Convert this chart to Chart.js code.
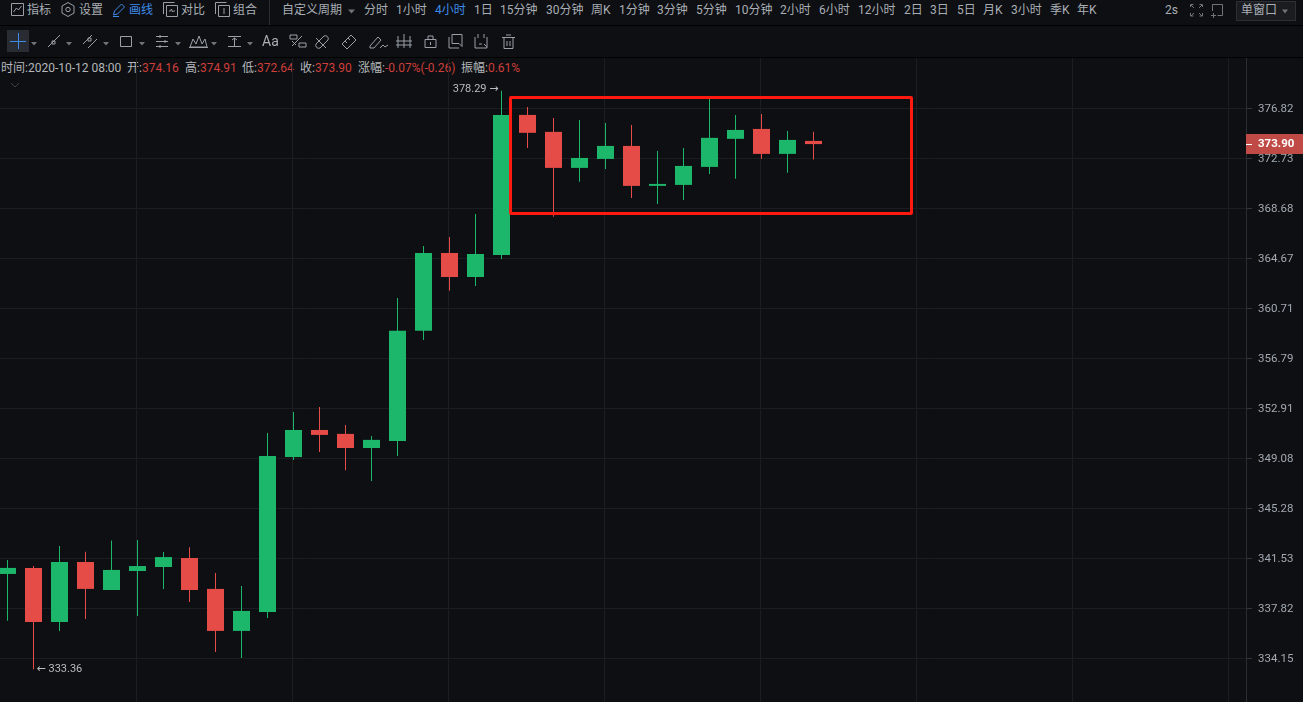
<!DOCTYPE html>
<html lang="zh">
<head>
<meta charset="UTF-8">
<title>4小时K线</title>
<script src="https://cdn.jsdelivr.net/npm/chart.js"></script>
<style>
    html, body { margin: 0; padding: 0; background: #0d0f12; overflow: hidden; }
    body { width: 1303px; height: 702px; position: relative; font: 12px Roboto, "Noto Sans CJK SC", sans-serif; color: #a9aeb5; }
    .row1 span, .info span { position: absolute; white-space: nowrap; }
    .row1 span { top: 2px; line-height: 16px; }
    .blue { color: #3d8be8; }
    .hline { position: absolute; left: 0; width: 1303px; height: 1px; background: #000; }
    .info { position: absolute; left: 0; top: 60px; height: 16px; line-height: 16px; color: #b4b7bb; }
    .info b { font-weight: normal; color: #cf3f3b; }
    #plot { position: absolute; left: 0; top: 58px; }
    #mark { position: absolute; left: 509px; top: 96px; width: 404px; height: 119px; box-sizing: border-box; border: 3px solid #ff1a0f; border-radius: 2px; }
    #icons { position: absolute; left: 0; top: 0; }
    .win { position: absolute; left: 1236px; top: 1px; width: 60px; height: 20px; box-sizing: border-box; border: 1px solid #2c2f35; background: #1a1c20; }
</style>
</head>
<body>
<div class="row1">
    <span style="left:27px">指标</span><span style="left:79px">设置</span><span style="left:129px" class="blue">画线</span><span style="left:181px">对比</span><span style="left:233px">组合</span>
    <span style="left:282px">自定义周期</span><span style="left:364px">分时</span><span style="left:396px">1小时</span><span style="left:435px" class="blue">4小时</span><span style="left:474px">1日</span><span style="left:500px">15分钟</span><span style="left:546px">30分钟</span><span style="left:591px">周K</span><span style="left:619px">1分钟</span><span style="left:657px">3分钟</span><span style="left:696px">5分钟</span><span style="left:735px">10分钟</span><span style="left:780px">2小时</span><span style="left:819px">6小时</span><span style="left:858px">12小时</span><span style="left:904px">2日</span><span style="left:930px">3日</span><span style="left:957px">5日</span><span style="left:983px">月K</span><span style="left:1011px">3小时</span><span style="left:1050px">季K</span><span style="left:1077px">年K</span><span style="left:1165px">2s</span>
    <div class="win"></div>
    <span style="left:1241px">单窗口</span>
</div>
<div class="hline" style="top:25px"></div>
<div class="hline" style="top:57px"></div>
<div class="info">
    <span style="left:1px">时间:2020-10-12 08:00</span>
    <span style="left:127px">开:<b>374.16</b></span>
    <span style="left:185px">高:<b>374.91</b></span>
    <span style="left:242px">低:<b>372.64</b></span>
    <span style="left:300px">收:<b>373.90</b></span>
    <span style="left:358px">涨幅:<b>-0.07%(-0.26)</b></span>
    <span style="left:461px">振幅:<b>0.61%</b></span>
</div>
<canvas id="plot" width="1303" height="644"></canvas>
<div id="mark"></div>
<svg id="icons" width="1303" height="96" fill="none" stroke="#9ba0a8" stroke-width="1">
    <!-- top bar -->
    <path d="M11.5 3.5h12v12h-12zM13.5 12l3-4 2 2 3-4"/>
    <path d="M68 2.5l6 3.5v7l-6 3.5-6-3.5v-7z"/><circle cx="68" cy="9.5" r="2.2"/>
    <path stroke="#3d8be8" d="M113 16.5h6M113.5 15l1-4 7-7 3 3-7 7z"/>
    <path d="M166.5 5.5h11v11h-11zM163.5 14V2.5h11M169 11h1.5l1-2 1 3 1-1h1.5"/>
    <path d="M218.5 5.5h11v11h-11zM215.5 14V2.5h11M224 8v6"/>
    <path stroke="#2a2d33" d="M269.5 0v25"/>
    <path fill="#6f747b" stroke="none" d="M348 9.500h7l-3.500 4z"/>
    <path fill="#6f747b" stroke="none" d="M1282 9.500h6l-3 4z"/>
    <path stroke="#6f747b" d="M1190.500 7V4.500h3M1199.500 4.500h3V7M1190.500 13v3h3M1199.500 16h3v-3M1191 5l3 3M1202 5l-3 3M1191 16l3-3M1202 16l-3-3"/>
    <path stroke="#6f747b" d="M1212.500 11V4.500h10v11h-5M1211 15.500h5M1213.500 13v5"/>
    <!-- drawing tools -->
    <rect x="7" y="30" width="22" height="22" fill="#292c32" stroke="none"/>
    <path stroke="#3d8be8" d="M18.500 33v16M10 41.500h16"/>
    <path fill="#6f747b" stroke="none" d="M31 42h6l-3 3.500zM66 42h6l-3 3.500zM103 42h6l-3 3.500zM139 42h6l-3 3.500zM175 42h6l-3 3.500zM211 42h6l-3 3.500zM247 42h6l-3 3.500z"/>
    <path d="M48 47l12-12M52 41h3v3h-3z"/>
    <path d="M83 44l9-9M88 48l9-9M88 38h3v3h-3z"/>
    <path d="M120.500 36.500h11v10h-11z"/>
    <path d="M156 36.500h12M156 41.500h12M156 46.500h12M160 35v3M165 40v3M160 45v3"/>
    <path d="M190 47l3-8 3 5 3-8 3 8 3-5 2 8zM189 47.500h19"/>
    <path d="M228 36.500h13M228 46.500h13M234.500 38v8M232 40l2.500-2 2.500 2"/>
    <path d="M290 35h7v4h-7zM299 43h7v4h-7zM292 46l10-10M292 41l4 4"/>
    <path d="M316 44l8-8a3 3 0 0 1 4 4l-8 8a3 3 0 0 1-4-4zM316 38l10 10"/>
    <path d="M342 44l9-9 5 5-9 9zM345 41l2 2M348 38l2 2"/>
    <path d="M370 46l8-9 3 3-7 8h-4zM380 48l3-3 2 2 3-2"/>
    <path d="M398 36v12M404 34v14M410 36v12M396 41h16M396 45h16"/>
    <path d="M425 39.500h11v8h-11zM428 39v-3h5v3M430.500 42v3"/>
    <path d="M452 34.500h10v12l-3-3h-7zM449 37v11h10"/>
    <path d="M475 37v11h12V37M478 34v4M484 34v4M479 44h3M484 44l3 3"/>
    <path d="M502 37.500h13M504 37.500v11h9v-11M506 35h5M507 41v5M510 41v5"/>
    <path d="M11 83l4 4 4-4" stroke="#3d4147"/>
</svg>
<span style="position:absolute;left:262px;top:33px;font-size:14px;color:#a9aeb5">Aa</span>
<script>
// 4h candles, last one is 2020-10-12 08:00
const categories = ['10-07 04:00','10-07 08:00','10-07 12:00','10-07 16:00','10-07 20:00','10-08 00:00','10-08 04:00','10-08 08:00','10-08 12:00','10-08 16:00','10-08 20:00','10-09 00:00','10-09 04:00','10-09 08:00','10-09 12:00','10-09 16:00','10-09 20:00','10-10 00:00','10-10 04:00','10-10 08:00','10-10 12:00','10-10 16:00','10-10 20:00','10-11 00:00','10-11 04:00','10-11 08:00','10-11 12:00','10-11 16:00','10-11 20:00','10-12 00:00','10-12 04:00','10-12 08:00'];
const opens  = [340.38,340.83,336.83,341.27,339.19,340.60,340.90,341.57,339.27,336.17,337.56,349.19,351.26,350.96,349.88,350.42,358.95,365.11,363.20,364.95,376.29,374.90,371.96,372.69,373.75,370.50,370.58,372.04,374.33,375.14,373.10,374.16];
const highs  = [341.42,340.97,342.47,342.04,342.87,342.92,342.02,342.37,340.45,339.49,351.03,352.64,353.03,351.65,350.80,361.54,365.67,366.39,368.24,378.29,376.94,376.04,375.88,375.63,375.47,373.34,373.59,377.68,376.29,376.37,374.98,374.91];
const lows   = [336.92,333.36,336.17,337.05,339.19,337.27,339.27,338.30,334.63,334.19,337.12,348.97,349.58,348.18,347.37,349.27,358.24,362.10,362.49,364.63,373.59,368.02,370.83,371.88,369.53,369.04,369.37,371.47,371.07,372.69,371.56,372.64];
const closes = [340.83,336.83,341.27,339.27,340.68,340.97,341.64,339.19,336.17,337.64,349.27,351.26,350.88,349.88,350.50,358.95,365.11,363.20,365.03,376.29,374.82,371.96,372.77,373.75,370.50,370.66,372.12,374.41,375.06,373.10,374.24,373.90];
const yTicks = [376.82,372.73,368.68,364.67,360.71,356.79,352.91,349.08,345.28,341.53,337.82,334.15];
const dayStarts = [5,11,17,23,29,35,41,47]; // candle slots at 00:00

const UP = '#1cb76a', DOWN = '#e54b47';
const candleColors = opens.map((o, i) => closes[i] >= o ? UP : DOWN);

// price tag and high/low markers
const overlay = {
    id: 'overlay',
    afterDraw(chart) {
        const { ctx, scales: { x, y }, chartArea } = chart;
        ctx.save();
        ctx.textBaseline = 'middle';
        ctx.font = '11px Roboto, "DejaVu Sans"';
        ctx.fillStyle = '#b9bcc1';

        const hi = Math.max(...highs), lo = Math.min(...lows);
        ctx.textAlign = 'right';
        ctx.fillText(hi.toFixed(2) + ' →', x.getPixelForValue(highs.indexOf(hi)) - 3, y.getPixelForValue(hi) - 1);
        ctx.textAlign = 'left';
        ctx.fillText('← ' + lo.toFixed(2), x.getPixelForValue(lows.indexOf(lo)) + 3, y.getPixelForValue(lo));

        const last = closes[closes.length - 1];
        const py = Math.round(y.getPixelForValue(last));
        ctx.fillStyle = '#c04a46';
        ctx.fillRect(chartArea.right, py - 10, 57, 20);
        ctx.fillStyle = '#fff';
        ctx.fillRect(chartArea.right, py, 6, 1);
        ctx.font = 'bold 11.5px Roboto';
        ctx.fillText(last.toFixed(2), chartArea.right + 12, py);
        ctx.restore();
    }
};

new Chart(document.getElementById('plot'), {
    type: 'bar',
    data: {
        datasets: [
            {
                label: 'wick',
                data: categories.map((c, i) => ({ x: i, y: [lows[i], highs[i]] })),
                backgroundColor: candleColors,
                inflateAmount: 0,
                barThickness: 1
            },
            {
                label: 'body',
                data: categories.map((c, i) => ({ x: i, y: [opens[i], closes[i]] })),
                backgroundColor: candleColors,
                inflateAmount: 0,
                barThickness: 17
            }
        ]
    },
    options: {
        responsive: false,
        animation: false,
        grouped: false,
        layout: { padding: 0 },
        plugins: { legend: { display: false }, tooltip: { enabled: false } },
        scales: {
            x: {
                type: 'linear',
                offset: false,
                min: -7.5 / 26,
                max: 1238.5 / 26,
                border: { display: false },
                grid: { color: '#1b1d21', drawTicks: false, offset: false },
                ticks: { display: false },
                afterBuildTicks(s) { s.ticks = dayStarts.map(v => ({ value: v - 0.04 })); },
                afterFit(s) { s.height = 0; s.paddingLeft = 0; s.paddingRight = 0; }
            },
            y: {
                type: 'logarithmic',
                position: 'right',
                bounds: 'data',
                min: 330.99,
                max: 381.00,
                border: { color: '#2a2d33' },
                grid: { color: '#1b1d21', tickColor: '#33363c', tickLength: 6 },
                ticks: {
                    color: '#a3a9b2',
                    font: { family: 'Roboto', size: 11.5 },
                    padding: 6,
                    labelOffset: 1,
                    autoSkip: false,
                    callback: v => Number(v).toFixed(2)
                },
                afterBuildTicks(s) { s.ticks = yTicks.map(v => ({ value: v })); },
                afterFit(s) { s.width = 57; s.paddingTop = 0; s.paddingBottom = 0; }
            }
        }
    },
    plugins: [overlay]
});
</script>
</body>
</html>
